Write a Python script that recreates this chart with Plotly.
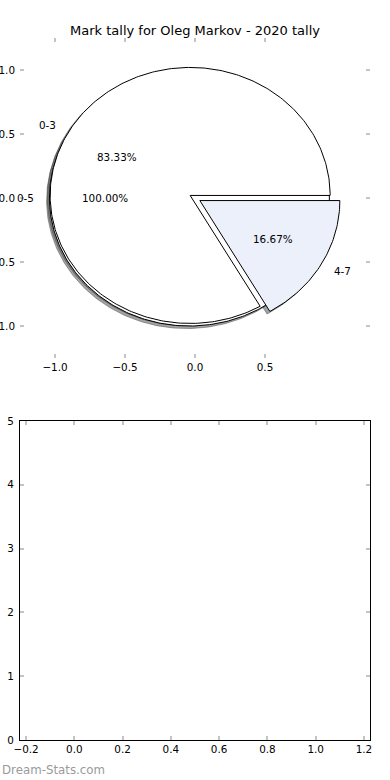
import numpy as np
import plotly.graph_objects as go

# ---------------- data ----------------
title_text = "Mark tally for Oleg Markov - 2020 tally"
pie_a_labels = ["0-5"]
pie_a_values = [6]
pie_a_colors = ["#FFFFFF"]
pie_b_labels = ["0-3", "4-7"]
pie_b_values = [5, 1]
pie_b_colors = ["#FFFFFF", "#EBF0FB"]
explode_amount = 0.04
start_angle = 0.0
top_xticks = [-1.0, -0.5, 0.0, 0.5]
top_yticks = [-1.0, -0.5, 0.0, 0.5, 1.0]
bottom_x_range = [-0.225, 1.225]
bottom_y_range = [0, 5]
watermark = "Dream-Stats.com"

FONT = "DejaVu Sans"
FS = 10.4
TICKGREY = "#c4c4c4"


def hex_rgb(h):
    h = h.lstrip("#")
    return tuple(int(h[i:i + 2], 16) for i in (0, 2, 4))


def build_wedges(labels, values, colors):
    total = float(sum(values))
    out = []
    t1 = start_angle
    for lab, v, c in zip(labels, values, colors):
        frac = v / total
        t2 = t1 + 360.0 * frac
        mid = np.radians((t1 + t2) / 2.0)
        cx = explode_amount * np.cos(mid)
        cy = explode_amount * np.sin(mid)
        out.append(dict(label=lab, frac=frac, t1=t1, t2=t2, mid=mid,
                        cx=cx, cy=cy, color=c))
        t1 = t2
    return out


def wedge_path(w, dx=0.0, dy=0.0):
    full = (w["t2"] - w["t1"]) >= 359.999
    n = max(int((w["t2"] - w["t1"]) / 1.0) + 2, 4)
    th = np.radians(np.linspace(w["t1"], w["t2"], n))
    xs = w["cx"] + dx + np.cos(th)
    ys = w["cy"] + dy + np.sin(th)
    if full:
        xs = np.append(xs, xs[0])
        ys = np.append(ys, ys[0])
    else:
        cx, cy = w["cx"] + dx, w["cy"] + dy
        xs = np.concatenate([[cx], xs, [cx]])
        ys = np.concatenate([[cy], ys, [cy]])
    return xs, ys


pies = [build_wedges(pie_a_labels, pie_a_values, pie_a_colors),
        build_wedges(pie_b_labels, pie_b_values, pie_b_colors)]
all_wedges = [w for p in pies for w in p]

fig = go.Figure()

# shadows first (below all wedges)
for w in all_wedges:
    r, g, b = hex_rgb(w["color"])
    sc = "rgba(%d,%d,%d,0.5)" % (0.3 * r, 0.3 * g, 0.3 * b)
    xs, ys = wedge_path(w, -0.02, -0.02)
    fig.add_trace(go.Scatter(x=xs, y=ys, mode="lines", fill="toself",
                             fillcolor=sc, line=dict(color=sc, width=1),
                             hoverinfo="skip", showlegend=False,
                             xaxis="x", yaxis="y"))
# wedges
for w in all_wedges:
    xs, ys = wedge_path(w)
    fig.add_trace(go.Scatter(x=xs, y=ys, mode="lines", fill="toself",
                             fillcolor=w["color"],
                             line=dict(color="black", width=1),
                             hoverinfo="skip", showlegend=False,
                             xaxis="x", yaxis="y"))

annotations = []
for w in all_wedges:
    lx = w["cx"] + 1.1 * np.cos(w["mid"])
    ly = w["cy"] + 1.1 * np.sin(w["mid"])
    annotations.append(dict(x=lx, y=ly, xref="x", yref="y", text=w["label"],
                            showarrow=False,
                            xanchor="left" if lx > 0 else "right",
                            yanchor="middle", borderpad=0,
                            font=dict(family=FONT, size=FS, color="black")))
    px = w["cx"] + 0.6 * np.cos(w["mid"])
    py = w["cy"] + 0.6 * np.sin(w["mid"])
    annotations.append(dict(x=px, y=py, xref="x", yref="y",
                            text="%.2f%%" % (100 * w["frac"]),
                            showarrow=False, xanchor="center",
                            yanchor="middle", borderpad=0,
                            font=dict(family=FONT, size=FS, color="black")))

# empty bottom subplot (invisible trace to instantiate axes)
fig.add_trace(go.Scatter(x=[None], y=[None], mode="markers",
                         showlegend=False, hoverinfo="skip",
                         xaxis="x2", yaxis="y2"))

annotations.append(dict(x=-20 / 350, y=-30 / 702, xref="paper", yref="paper",
                        text=watermark, showarrow=False, xanchor="left",
                        yanchor="middle",
                        font=dict(family=FONT, size=11.8, color="#9a9a9a")))

tickfont = dict(family=FONT, size=FS, color="black")
common = dict(showgrid=False, zeroline=False, ticks="inside", ticklen=4,
              tickwidth=1.5, tickcolor=TICKGREY, mirror="ticks",
              tickfont=tickfont, automargin=False)

fig.update_layout(
    width=390, height=780,
    margin=dict(l=20, r=20, t=38, b=40, autoexpand=False),
    paper_bgcolor="white", plot_bgcolor="white",
    title=dict(text=title_text, x=0.5, xanchor="center", y=1 - 30 / 780,
               yanchor="middle", font=dict(family=FONT, size=13,
                                           color="black")),
    xaxis=dict(domain=[0, 1], range=[-1.25, 1.25], tickvals=top_xticks,
               tickformat=".1f", showline=False, anchor="y",
               ticklabelstandoff=2, **common),
    yaxis=dict(domain=[(740 - 358) / 702, 1], range=[-1.25, 1.25],
               tickvals=top_yticks, tickformat=".1f", showline=False,
               anchor="x", ticklabelstandoff=4, **common),
    xaxis2=dict(domain=[0, 1], range=bottom_x_range, dtick=0.2, tick0=0,
                tickformat=".1f", showline=True, linecolor="black",
                linewidth=1, anchor="y2", **common),
    yaxis2=dict(domain=[0, 319 / 702], range=bottom_y_range, dtick=1,
                showline=True, linecolor="black", linewidth=1,
                anchor="x2", ticklabelstandoff=3, **common),
    annotations=annotations,
)

fig.write_html("out.html")
